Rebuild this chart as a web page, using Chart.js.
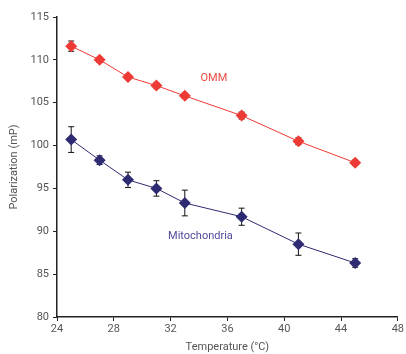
<!DOCTYPE html>
<html>
<head>
<meta charset="utf-8">
<script src="https://cdn.jsdelivr.net/npm/chart.js@4"></script>
<style>
  html, body { margin: 0; padding: 0; background: #fff; }
  #wrap { width: 406px; height: 354px; }
</style>
</head>
<body>
<div id="wrap"><canvas id="chart" width="406" height="354"></canvas></div>
<script>
const temperatures = [25, 27, 29, 31, 33, 37, 41, 45];
const ommValues = [111.6, 110.0, 108.0, 107.0, 105.8, 103.5, 100.5, 98.0];
const ommErrors = [0.6, 0.3, 0.3, 0.3, 0.3, 0.4, 0.4, 0.3];
const mitoValues = [100.7, 98.3, 96.0, 95.0, 93.3, 91.7, 88.5, 86.3];
const mitoErrors = [1.5, 0.5, 0.9, 0.9, 1.5, 1.0, 1.3, 0.5];
const xTicks = [24, 28, 32, 36, 40, 44, 48];
const yTicks = [80, 85, 90, 95, 100, 105, 110, 115];

const RED = '#ee3a34';
const NAVY = '#2f2b72';
const FONT = 'Roboto, "Liberation Sans", sans-serif';

function toPoints(values) {
    return temperatures.map((t, i) => ({ x: t, y: values[i] }));
}

// error bars drawn through the chart scales
const errorBarPlugin = {
    id: 'errorBars',
    beforeDatasetsDraw(chart) {
        const { ctx, scales } = chart;
        ctx.save();
        ctx.strokeStyle = '#111';
        ctx.lineWidth = 1;
        chart.data.datasets.forEach((ds) => {
            const errs = ds.errors || [];
            ds.data.forEach((p, i) => {
                const e = errs[i];
                if (!e) return;
                const x = scales.x.getPixelForValue(p.x);
                const y1 = scales.y.getPixelForValue(p.y - e);
                const y2 = scales.y.getPixelForValue(p.y + e);
                ctx.beginPath();
                ctx.moveTo(x, y1); ctx.lineTo(x, y2);
                ctx.moveTo(x - 3, y1); ctx.lineTo(x + 3, y1);
                ctx.moveTo(x - 3, y2); ctx.lineTo(x + 3, y2);
                ctx.stroke();
            });
        });
        ctx.restore();
    }
};

// series labels placed in data space
const seriesLabels = [
    { text: 'OMM', x: 35.05, y: 107.8, color: '#ee4a44' },
    { text: 'Mitochondria', x: 34.1, y: 89.45, color: '#4f4a98' }
];
const labelPlugin = {
    id: 'seriesLabels',
    afterDatasetsDraw(chart) {
        const { ctx, scales } = chart;
        ctx.save();
        ctx.font = '11px ' + FONT;
        ctx.textAlign = 'center';
        ctx.textBaseline = 'middle';
        seriesLabels.forEach((l) => {
            ctx.fillStyle = l.color;
            ctx.fillText(l.text, scales.x.getPixelForValue(l.x), scales.y.getPixelForValue(l.y));
        });
        ctx.restore();
    }
};

const ctx = document.getElementById('chart').getContext('2d');
new Chart(ctx, {
    type: 'line',
    data: {
        datasets: [
            {
                label: 'OMM',
                data: toPoints(ommValues),
                errors: ommErrors,
                borderColor: RED,
                backgroundColor: RED,
                borderWidth: 1,
                pointStyle: 'rectRot',
                pointRadius: 6,
                pointBorderWidth: 0,
                pointBackgroundColor: RED
            },
            {
                label: 'Mitochondria',
                data: toPoints(mitoValues),
                errors: mitoErrors,
                borderColor: NAVY,
                backgroundColor: NAVY,
                borderWidth: 1,
                pointStyle: 'rectRot',
                pointRadius: 6,
                pointBorderWidth: 0,
                pointBackgroundColor: NAVY
            }
        ]
    },
    options: {
        responsive: false,
        animation: false,
        layout: { padding: { top: 17, right: 6, left: 0, bottom: 0 } },
        plugins: {
            legend: { display: false },
            tooltip: { enabled: false }
        },
        scales: {
            x: {
                type: 'linear',
                min: 24,
                max: 48,
                afterBuildTicks: (s) => { s.ticks = xTicks.map(v => ({ value: v })); },
                afterFit: (s) => { s.height = 37; },
                grid: { drawOnChartArea: false, drawTicks: true, tickLength: 4, color: '#222' },
                border: { color: '#222', width: 1.5 },
                ticks: { color: '#555', font: { family: FONT, size: 11 }, padding: 2, maxRotation: 0 },
                title: { display: true, text: 'Temperature (°C)', color: '#555', font: { family: FONT, size: 11 }, padding: { top: 4, bottom: 0 } }
            },
            y: {
                type: 'linear',
                min: 80,
                max: 115,
                afterBuildTicks: (s) => { s.ticks = yTicks.map(v => ({ value: v })); },
                afterFit: (s) => { s.width = 57; },
                grid: { drawOnChartArea: false, drawTicks: true, tickLength: 4, color: '#222' },
                border: { color: '#222', width: 1.5 },
                ticks: { color: '#555', font: { family: FONT, size: 11 }, padding: 4 },
                title: { display: true, text: 'Polarization (mP)', color: '#555', font: { family: FONT, size: 11 }, padding: { top: 8, bottom: 2 } }
            }
        }
    },
    plugins: [errorBarPlugin, labelPlugin]
});
</script>
</body>
</html>
